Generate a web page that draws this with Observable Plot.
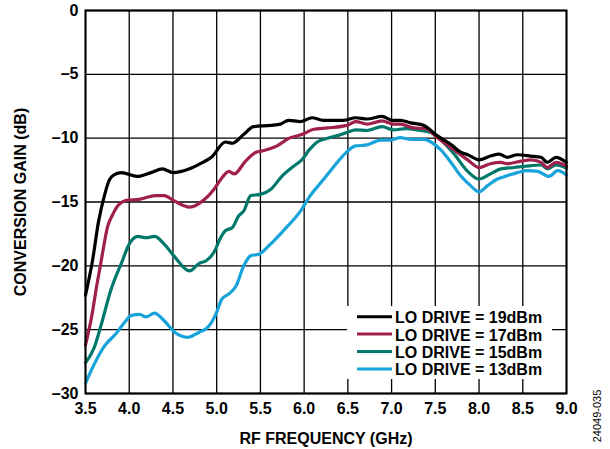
<!DOCTYPE html>
<html>
<head>
<meta charset="utf-8">
<script src="https://cdn.jsdelivr.net/npm/d3@7"></script>
<script src="https://cdn.jsdelivr.net/npm/@observablehq/plot@0.6"></script>
<style>
  body { margin: 0; background: #fff; }
  #chart { position: relative; width: 610px; height: 449px; }
  #overlay { position: absolute; left: 0; top: 0; pointer-events: none; }
</style>
</head>
<body>
<div id="chart"></div>
<script>
// ---- data ----
const xTicks = [3.5, 4.0, 4.5, 5.0, 5.5, 6.0, 6.5, 7.0, 7.5, 8.0, 8.5, 9.0];
const yTicks = [-30, -25, -20, -15, -10, -5, 0];

const names = ["LO DRIVE = 19dBm", "LO DRIVE = 17dBm", "LO DRIVE = 15dBm", "LO DRIVE = 13dBm"];
const colors = ["#000000", "#a01f4b", "#00796c", "#18a3da"];

const f19 = [3.5,3.58,3.65,3.72,3.77,3.83,3.91,4.09,4.25,4.38,4.5,4.69,4.84,4.94,5.1,5.18,5.31,5.42,5.62,5.73,5.82,5.96,6.09,6.22,6.45,6.59,6.72,6.89,7.01,7.1,7.22,7.37,7.52,7.68,7.79,7.87,8.0,8.13,8.23,8.32,8.44,8.59,8.71,8.78,8.88,9.0];
const g19 = [-22.3,-19.6,-16.5,-14.4,-13.3,-12.85,-12.7,-13.0,-12.7,-12.4,-12.7,-12.4,-11.9,-11.5,-10.3,-10.4,-9.7,-9.1,-9.0,-8.9,-8.6,-8.7,-8.4,-8.6,-8.6,-8.4,-8.5,-8.3,-8.6,-8.6,-8.8,-9.0,-9.8,-10.5,-11.1,-11.3,-11.7,-11.4,-11.25,-11.5,-11.3,-11.4,-11.5,-11.9,-11.5,-11.9];

const f17 = [3.5,3.57,3.63,3.69,3.75,3.81,3.87,3.98,4.11,4.3,4.4,4.51,4.69,4.86,4.97,5.04,5.14,5.2,5.33,5.45,5.52,5.69,5.83,5.98,6.11,6.27,6.49,6.59,6.72,6.89,7.02,7.1,7.25,7.39,7.52,7.7,7.87,8.0,8.13,8.25,8.32,8.48,8.59,8.71,8.78,8.88,9.0];
const g17 = [-26.2,-24.0,-21.5,-19.2,-17.0,-16.0,-15.3,-14.85,-14.8,-14.5,-14.5,-14.9,-15.4,-14.8,-14.0,-13.3,-12.6,-12.8,-11.8,-11.1,-11.0,-10.6,-10.0,-9.7,-9.3,-9.2,-9.0,-8.7,-8.9,-8.65,-8.9,-8.9,-9.2,-9.25,-9.95,-10.85,-11.7,-12.3,-12.0,-11.9,-12.0,-11.8,-11.7,-11.9,-12.3,-11.9,-12.2];

const f15 = [3.5,3.6,3.68,3.79,3.91,4.0,4.1,4.19,4.29,4.4,4.52,4.69,4.8,4.88,4.98,5.03,5.1,5.18,5.25,5.31,5.39,5.5,5.62,5.75,5.88,5.98,6.06,6.15,6.27,6.38,6.49,6.59,6.72,6.89,7.02,7.16,7.33,7.45,7.56,7.71,7.87,8.0,8.13,8.25,8.4,8.53,8.71,8.78,8.88,9.0];
const g15 = [-27.6,-26.4,-24.6,-21.9,-19.8,-18.3,-17.7,-17.8,-17.7,-18.3,-19.3,-20.4,-19.8,-19.6,-18.8,-18.0,-17.25,-17.0,-16.1,-15.7,-14.5,-14.4,-14.0,-12.95,-12.2,-11.65,-10.9,-10.3,-10.0,-9.8,-9.55,-9.35,-9.4,-9.1,-9.35,-9.25,-9.4,-9.55,-10.1,-11.2,-12.6,-13.2,-12.8,-12.4,-12.3,-12.2,-12.1,-12.4,-12.1,-12.35];

const f13 = [3.5,3.6,3.72,3.85,3.95,4.02,4.12,4.19,4.29,4.4,4.52,4.67,4.8,4.9,4.99,5.06,5.14,5.22,5.31,5.39,5.48,5.6,5.77,5.96,6.07,6.19,6.32,6.44,6.59,6.7,6.88,6.99,7.1,7.22,7.37,7.45,7.56,7.68,7.79,7.9,8.0,8.1,8.21,8.32,8.44,8.55,8.67,8.8,8.9,9.0];
const g13 = [-29.2,-27.7,-26.25,-25.3,-24.4,-23.9,-23.8,-24.0,-23.7,-24.3,-25.2,-25.6,-25.2,-24.8,-23.8,-22.6,-22.2,-21.6,-20.0,-19.2,-19.1,-18.4,-17.2,-15.7,-14.5,-13.5,-12.4,-11.4,-10.6,-10.55,-10.15,-10.15,-9.95,-10.1,-10.1,-10.3,-10.9,-11.9,-12.95,-13.7,-14.2,-13.7,-13.2,-12.95,-12.7,-12.55,-12.6,-13.0,-12.55,-12.9];

const xLabel = "RF FREQUENCY (GHz)";
const yLabel = "CONVERSION GAIN (dB)";
const figId = "24049-035";

// ---- build table (draw 13 first so 19 ends on top) ----
const seriesF = [f19, f17, f15, f13];
const seriesG = [g19, g17, g15, g13];
const rows = [];
for (let s = 3; s >= 0; s--) {
  seriesF[s].forEach((f, i) => rows.push({f, g: seriesG[s][i], name: names[s]}));
}

const W = 610, H = 449;
const M = {left: 85, right: 44, top: 10, bottom: 56};
const font = "'Liberation Sans', Arial, Helvetica, sans-serif";
const yFmt = d => d === 0 ? "0" : "\u2013" + Math.abs(d);

const chart = Plot.plot({
  width: W, height: H,
  marginLeft: M.left, marginRight: M.right, marginTop: M.top, marginBottom: M.bottom,
  style: {fontFamily: font, fontSize: "16px", fontWeight: "bold", color: "#000", background: "#fff"},
  x: {domain: [3.5, 9.0]},
  y: {domain: [-30, 0]},
  color: {domain: names, range: colors},
  marks: [
    Plot.gridX(xTicks, {stroke: "#000", strokeOpacity: 1, strokeWidth: 1.3}),
    Plot.gridY(yTicks, {stroke: "#000", strokeOpacity: 1, strokeWidth: 1.3}),
    Plot.line(rows, {x: "f", y: "g", z: "name", stroke: "name", strokeWidth: 3.2, curve: "monotone-x"}),
    Plot.frame({stroke: "#000", strokeWidth: 2}),
    Plot.axisX(xTicks, {tickSize: 0, tickPadding: 9, tickFormat: d => d.toFixed(1),
      label: xLabel, labelAnchor: "center", labelOffset: 50, labelArrow: "none"}),
    Plot.axisY(yTicks, {tickSize: 0, tickPadding: 7, tickFormat: yFmt,
      label: yLabel, labelAnchor: "center", labelOffset: 71, labelArrow: "none"})
  ]
});
document.getElementById("chart").appendChild(chart);

// ---- legend + figure id overlay ----
const ov = d3.select("#chart").append("svg").attr("id", "overlay")
  .attr("width", W).attr("height", H)
  .style("font-family", font);
const lg = ov.append("g").attr("transform", "translate(347,306)");
lg.append("rect").attr("width", 205).attr("height", 73).attr("fill", "#fff");
names.forEach((n, i) => {
  const y = 10.7 + i * 17.4;
  lg.append("line").attr("x1", 10).attr("x2", 45).attr("y1", y).attr("y2", y)
    .attr("stroke", colors[i]).attr("stroke-width", 3);
  lg.append("text").attr("x", 48).attr("y", y + 6.5).text(n)
    .attr("font-size", 16).attr("font-weight", "bold").attr("fill", "#000");
});
ov.append("text").attr("transform", "translate(601,416) rotate(-90)")
  .attr("text-anchor", "middle").attr("font-size", 11).attr("fill", "#000").text(figId);
</script>
</body>
</html>
